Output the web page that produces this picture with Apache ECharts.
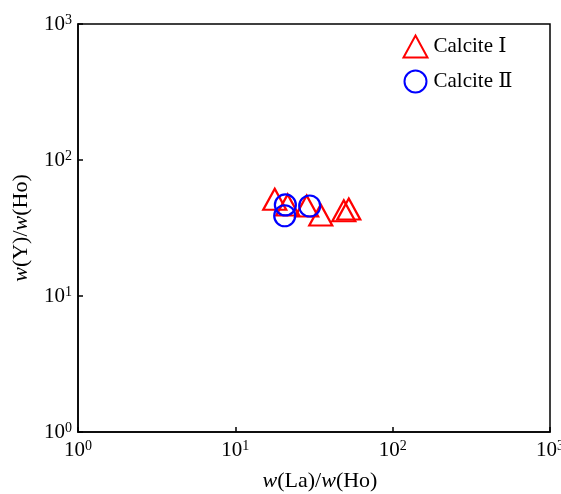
<!DOCTYPE html>
<html><head><meta charset="utf-8">
<script src="https://cdn.jsdelivr.net/npm/echarts@6/dist/echarts.min.js"></script>
<style>html,body{margin:0;padding:0;background:#fff}#c{width:561px;height:494px}</style>
</head><body><div id="c"></div>
<script>
const calcite1X = [17.8, 21.5, 28.4, 34.9, 48.9, 52.6];
const calcite1Y = [51.4, 46.7, 45.9, 39.4, 42.3, 43.6];
const calcite2X = [20.8, 20.6, 29.7];
const calcite2Y = [46.7, 38.9, 45.9];
const seriesNames = ['Calcite Ⅰ', 'Calcite Ⅱ'];
const axisMin = 1, axisMax = 1000;

const FONT = '"Liberation Serif", "DejaVu Serif", "Times New Roman", serif';
function pair(xs, ys){ return xs.map((x,i)=>[x, ys[i]]); }
const rich = {
  b:{fontFamily:FONT,fontSize:21,color:'#000',lineHeight:22},
  s:{fontFamily:FONT,fontSize:14,color:'#000',lineHeight:14,verticalAlign:'top'}
};
function fmt(v){ const e=Math.round(Math.log10(v)); return '{b|10}{s|'+e+'}'; }
const nameRich = {
  i:{fontFamily:FONT,fontSize:22,fontStyle:'italic',color:'#000'},
  n:{fontFamily:FONT,fontSize:22,color:'#000'}
};
function axis(nameStr, gap, rot, margin, pad){
  return {
    type:'log', logBase:10, min:axisMin, max:axisMax,
    name:nameStr, nameLocation:'middle', nameGap:gap, nameRotate:rot,
    nameTextStyle:{rich:nameRich,padding:pad},
    axisLine:{show:true,lineStyle:{color:'#000',width:1.5}},
    axisTick:{show:true,inside:true,length:5,lineStyle:{color:'#000',width:1.5}},
    minorTick:{show:false},
    splitLine:{show:false},
    axisLabel:{formatter:fmt,rich:rich,margin:margin}
  };
}
const chart = echarts.init(document.getElementById('c'));
chart.setOption({
  backgroundColor:'#fff',
  animation:false,
  grid:{left:78,top:24,right:11,bottom:62,show:true,borderColor:'#000',borderWidth:1.5,
        containLabel:false,outerBoundsMode:'none'},
  xAxis: axis('{i|w}{n|(La)/}{i|w}{n|(Ho)}', 38, 0, 7, [0,0,0,12]),
  yAxis: axis('{i|w}{n|(Y)/}{i|w}{n|(Ho)}', 46, 90, 6, 0),
  legend:{
    orient:'vertical', left:401, top:33, padding:0, itemWidth:24, itemHeight:22, itemGap:8,
    textStyle:{fontFamily:FONT,fontSize:21,lineHeight:22,color:'#000',padding:[0,0,0,1]},
    data:[
      {name:seriesNames[0],icon:'triangle',itemStyle:{color:'none',borderColor:'#ff0000',borderWidth:2}},
      {name:seriesNames[1],icon:'circle',itemStyle:{color:'none',borderColor:'#0000ff',borderWidth:2}}
    ]
  },
  series:[
    {name:seriesNames[0],type:'scatter',symbol:'triangle',symbolSize:[23,21],
     itemStyle:{color:'none',borderColor:'#ff0000',borderWidth:2.2,opacity:1},
     data:pair(calcite1X,calcite1Y)},
    {name:seriesNames[1],type:'scatter',symbol:'circle',symbolSize:21,
     itemStyle:{color:'none',borderColor:'#0000ff',borderWidth:2.2,opacity:1},
     data:pair(calcite2X,calcite2Y)}
  ]
});
</script></body></html>
